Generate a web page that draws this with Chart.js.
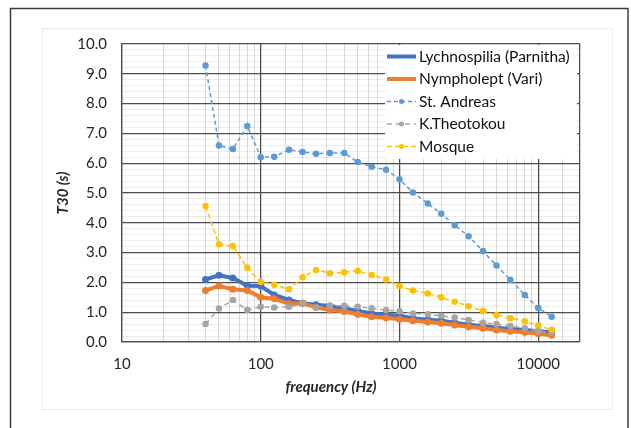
<!DOCTYPE html>
<html lang="en">
<head>
    <meta charset="UTF-8">
    <title>T30 vs frequency</title>
    <script src="https://cdn.jsdelivr.net/npm/chart.js"></script>
    <style>
        body {
            margin: 0;
            padding: 0;
            background-color: #FFFFFF;
        }
        canvas {
            display: block;
        }
    </style>
</head>
<body>
    <canvas id="t30Chart" width="631" height="428"></canvas>
    <script>
        // 1/3 octave band centre frequencies (Hz)
        const frequencies = [40, 50, 63, 80, 100, 125, 160, 200, 250, 315, 400, 500, 630, 800,
            1000, 1250, 1600, 2000, 2500, 3150, 4000, 5000, 6300, 8000, 10000, 12500];

        // T30 (s) per venue
        const lychnospilia = [2.10, 2.24, 2.15, 1.89, 1.88, 1.58, 1.41, 1.30, 1.25, 1.21, 1.13, 1.04, 0.96, 0.91,
            0.88, 0.80, 0.75, 0.71, 0.65, 0.58, 0.54, 0.48, 0.44, 0.40, 0.36, 0.33];
        const nympholept = [1.73, 1.88, 1.77, 1.73, 1.50, 1.45, 1.28, 1.30, 1.16, 1.07, 1.02, 0.93, 0.85, 0.81,
            0.76, 0.71, 0.67, 0.63, 0.57, 0.51, 0.46, 0.40, 0.36, 0.33, 0.28, 0.23];
        const stAndreas = [9.28, 6.59, 6.48, 7.25, 6.20, 6.22, 6.45, 6.38, 6.32, 6.34, 6.34, 6.04, 5.88, 5.78,
            5.46, 5.02, 4.65, 4.30, 3.92, 3.55, 3.05, 2.57, 2.08, 1.58, 1.14, 0.85];
        const kTheotokou = [0.60, 1.12, 1.41, 1.07, 1.18, 1.16, 1.18, 1.28, 1.17, 1.22, 1.22, 1.18, 1.13, 1.07,
            1.03, 0.96, 0.93, 0.88, 0.82, 0.74, 0.65, 0.60, 0.54, 0.46, 0.37, 0.31];
        const mosque = [4.56, 3.28, 3.22, 2.49, 2.01, 1.92, 1.77, 2.17, 2.42, 2.31, 2.34, 2.38, 2.25, 2.10,
            1.88, 1.73, 1.63, 1.50, 1.35, 1.20, 1.04, 0.91, 0.80, 0.70, 0.55, 0.41];

        const seriesNames = ['Lychnospilia (Parnitha)', 'Nympholept (Vari)', 'St. Andreas', 'K.Theotokou', 'Mosque'];
        const decadeLabels = [10, 100, 1000, 10000];

        const FONT = 'Lato, "Open Sans", sans-serif';
        const MAJOR = '#4d4d4d';
        const MINOR_V = 'rgba(0, 0, 0, 0.15)';
        const MINOR_H = 'rgba(0, 0, 0, 0.07)';

        function toPoints(values) {
            return frequencies.map((f, i) => ({ x: f, y: values[i] }));
        }

        function isDecade(v) {
            const l = Math.log10(v);
            return Math.abs(l - Math.round(l)) < 1e-9;
        }

        // frame, axis titles and legend drawn by hand
        const decorations = {
            id: 'decorations',
            beforeDraw(chart) {
                const c = chart.ctx;
                c.save();
                c.fillStyle = '#FFFFFF';
                c.fillRect(0, 0, chart.width, chart.height);
                c.strokeStyle = '#ebebeb';
                c.lineWidth = 1;
                c.strokeRect(42.5, 28.5, 570, 381);
                c.strokeStyle = '#3c3c3c';
                c.lineWidth = 1.5;
                c.strokeRect(10.5, 8.5, 617.5, 440);
                c.restore();
            },
            afterDraw(chart) {
                const c = chart.ctx;
                c.save();
                c.fillStyle = '#262626';
                c.font = 'italic bold 15px ' + FONT;
                c.textAlign = 'center';
                c.textBaseline = 'middle';
                c.fillText('frequency (Hz)', 331, 387);
                c.translate(63, 193);
                c.rotate(-Math.PI / 2);
                c.fillText('T30 (s)', 0, 0);
                c.restore();

                // legend box
                c.save();
                c.fillStyle = '#FFFFFF';
                c.fillRect(385, 45, 192, 114);
                c.font = '15.5px ' + FONT;
                c.textAlign = 'left';
                c.textBaseline = 'middle';
                chart.data.datasets.forEach((ds, i) => {
                    const y = 56.5 + i * 22.5;
                    c.strokeStyle = ds.borderColor;
                    c.lineWidth = ds.borderWidth;
                    c.setLineDash(ds.borderDash || []);
                    c.beginPath();
                    c.moveTo(387, y);
                    c.lineTo(416, y);
                    c.stroke();
                    c.setLineDash([]);
                    c.fillStyle = ds.pointBackgroundColor;
                    c.beginPath();
                    c.arc(401.5, y, ds.pointRadius, 0, Math.PI * 2);
                    c.fill();
                    c.fillStyle = '#111111';
                    c.fillText(ds.label, 419, y);
                });
                c.restore();
            }
        };

        const ctx = document.getElementById('t30Chart').getContext('2d');
        new Chart(ctx, {
            type: 'line',
            data: {
                datasets: [
                    {
                        label: seriesNames[0], data: toPoints(lychnospilia), order: 5,
                        borderColor: '#4472C4', pointBackgroundColor: '#4472C4', pointBorderColor: '#4472C4',
                        borderWidth: 4, pointRadius: 1.5
                    },
                    {
                        label: seriesNames[1], data: toPoints(nympholept), order: 4,
                        borderColor: '#ED7D31', pointBackgroundColor: '#ED7D31', pointBorderColor: '#ED7D31',
                        borderWidth: 4, pointRadius: 1.5
                    },
                    {
                        label: seriesNames[2], data: toPoints(stAndreas), order: 3,
                        borderColor: '#5B9BD5', pointBackgroundColor: '#5B9BD5', pointBorderColor: '#5B9BD5',
                        borderWidth: 1.5, borderDash: [4, 3], pointRadius: 2.5
                    },
                    {
                        label: seriesNames[3], data: toPoints(kTheotokou), order: 2,
                        borderColor: '#A5A5A5', pointBackgroundColor: '#A5A5A5', pointBorderColor: '#A5A5A5',
                        borderWidth: 1.5, borderDash: [5, 4], pointRadius: 2.5
                    },
                    {
                        label: seriesNames[4], data: toPoints(mosque), order: 1,
                        borderColor: '#FFC000', pointBackgroundColor: '#FFC000', pointBorderColor: '#FFC000',
                        borderWidth: 1.5, borderDash: [5, 3], pointRadius: 2.5
                    }
                ]
            },
            options: {
                responsive: false,
                animation: false,
                layout: {
                    padding: { left: 0, right: 51, top: 44, bottom: 0 }
                },
                elements: {
                    line: { tension: 0 },
                    point: { borderWidth: 0 }
                },
                plugins: {
                    legend: { display: false },
                    tooltip: { enabled: false }
                },
                scales: {
                    x: {
                        type: 'logarithmic',
                        min: 10,
                        max: 20000,
                        afterFit: function(scale) { scale.height = 86; },
                        border: { display: true, color: MAJOR, width: 1.25 },
                        grid: {
                            drawTicks: false,
                            lineWidth: function(c) {
                                return (c.tick && (isDecade(c.tick.value) || c.tick.value >= 20000)) ? 1.25 : 1;
                            },
                            color: function(c) {
                                if (!c.tick) return MINOR_V;
                                const v = c.tick.value;
                                return (isDecade(v) || v >= 20000) ? MAJOR : MINOR_V;
                            }
                        },
                        ticks: {
                            autoSkip: false,
                            maxRotation: 0,
                            padding: 13,
                            color: '#262626',
                            font: { family: FONT, size: 15 },
                            callback: function(value) {
                                return decadeLabels.includes(value) ? String(value) : '';
                            }
                        }
                    },
                    y: {
                        min: 0,
                        max: 10,
                        afterFit: function(scale) { scale.width = 122; },
                        border: { display: true, color: MAJOR, width: 1.25 },
                        grid: {
                            drawTicks: false,
                            lineWidth: function(c) {
                                return (c.tick && Math.abs(c.tick.value - Math.round(c.tick.value)) < 1e-6) ? 1.25 : 1;
                            },
                            color: function(c) {
                                if (!c.tick) return MINOR_H;
                                const v = c.tick.value;
                                return Math.abs(v - Math.round(v)) < 1e-6 ? MAJOR : MINOR_H;
                            }
                        },
                        ticks: {
                            stepSize: 0.2,
                            autoSkip: false,
                            maxTicksLimit: 100,
                            padding: 15,
                            color: '#262626',
                            font: { family: FONT, size: 15 },
                            callback: function(value) {
                                return Math.abs(value - Math.round(value)) < 1e-6 ? value.toFixed(1) : '';
                            }
                        }
                    }
                }
            },
            plugins: [decorations]
        });
    </script>
</body>
</html>
